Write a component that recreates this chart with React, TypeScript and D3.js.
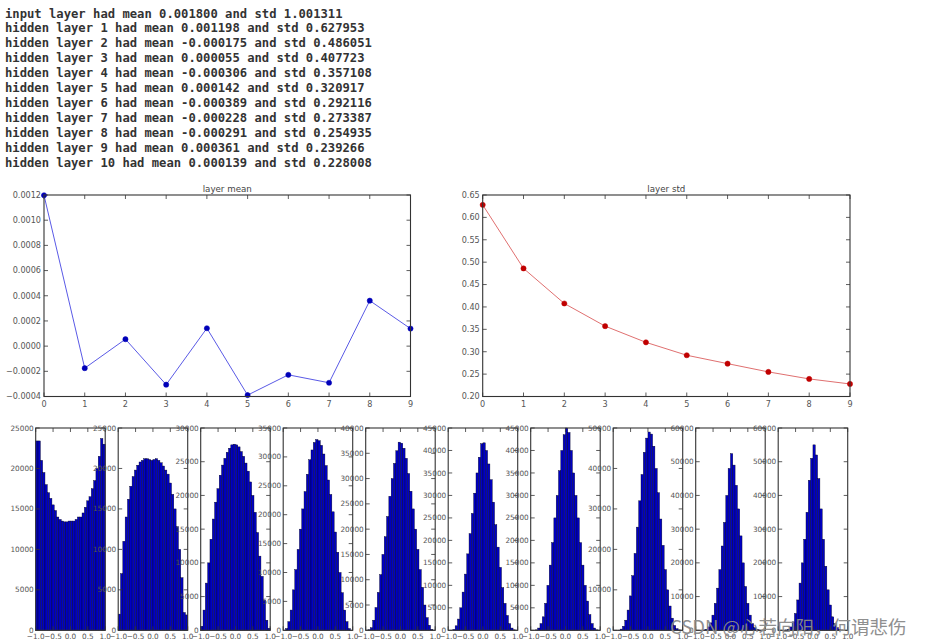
import React from "react";
import * as d3 from "d3";

// ---------- data ----------
const textLines = [
  "input layer had mean 0.001800 and std 1.001311",
  "hidden layer 1 had mean 0.001198 and std 0.627953",
  "hidden layer 2 had mean -0.000175 and std 0.486051",
  "hidden layer 3 had mean 0.000055 and std 0.407723",
  "hidden layer 4 had mean -0.000306 and std 0.357108",
  "hidden layer 5 had mean 0.000142 and std 0.320917",
  "hidden layer 6 had mean -0.000389 and std 0.292116",
  "hidden layer 7 had mean -0.000228 and std 0.273387",
  "hidden layer 8 had mean -0.000291 and std 0.254935",
  "hidden layer 9 had mean 0.000361 and std 0.239266",
  "hidden layer 10 had mean 0.000139 and std 0.228008",
];

const layerIndex = [0, 1, 2, 3, 4, 5, 6, 7, 8, 9];
const layerMeans = [0.001198, -0.000175, 0.000055, -0.000306, 0.000142, -0.000389, -0.000228, -0.000291, 0.000361, 0.000139];
const layerStds = [0.627953, 0.486051, 0.407723, 0.357108, 0.320917, 0.292116, 0.273387, 0.254935, 0.239266, 0.228008];

const meanTicks = [-0.0004, -0.0002, 0, 0.0002, 0.0004, 0.0006, 0.0008, 0.001, 0.0012];
const stdTicks = [0.2, 0.25, 0.3, 0.35, 0.4, 0.45, 0.5, 0.55, 0.6, 0.65];

const histXTicks = [-1, -0.5, 0, 0.5, 1];
const histYMax = [25000, 25000, 30000, 35000, 40000, 45000, 45000, 50000, 60000, 60000];
const histYStep = [5000, 5000, 5000, 5000, 5000, 5000, 5000, 10000, 10000, 10000];

// 30 bins over [-1, 1]
const hist1 = [23400, 23400, 21000, 19500, 18000, 17000, 16300, 15500, 14800, 14000, 13700, 13500, 13400, 13400, 13500, 13500, 13500, 13700, 14000, 14000, 14500, 15200, 16000, 16500, 17500, 18500, 20000, 21500, 23700, 23000];
const hist2 = [2000, 7000, 11000, 14000, 16200, 17800, 19000, 19800, 20400, 20800, 21000, 21200, 21200, 21100, 21000, 21100, 21200, 21000, 20700, 20300, 19800, 19300, 18200, 16800, 15000, 12800, 10000, 6500, 2200, 1900];
const hist3 = [600, 3000, 7000, 10000, 13500, 16500, 19000, 21000, 23000, 24500, 25500, 26400, 27000, 27500, 27600, 27500, 27200, 26500, 25800, 24800, 23600, 22000, 20000, 17500, 14500, 11000, 8000, 4500, 1500, 300];
const hist4 = [0, 300, 1500, 3500, 7000, 10500, 14000, 17500, 21000, 24000, 27000, 29500, 31200, 32500, 33000, 32800, 32000, 30500, 28500, 26000, 23500, 20500, 17000, 13500, 10000, 6500, 3500, 1500, 300, 0];
const hist5 = [0, 100, 500, 2000, 4500, 7500, 11000, 15000, 18500, 22500, 26500, 30000, 33000, 35500, 37200, 37000, 36000, 34000, 31000, 27500, 24000, 20000, 16000, 12000, 8500, 5000, 2500, 1000, 200, 0];
const hist6 = [0, 0, 200, 1000, 2500, 5000, 8500, 12500, 17000, 21500, 26000, 30500, 35000, 38500, 41500, 41700, 40000, 37000, 33500, 28500, 23500, 18500, 14000, 9500, 6000, 3300, 1500, 500, 100, 0];
const hist7 = [0, 0, 100, 500, 1500, 3000, 6000, 10000, 14500, 19500, 25000, 30000, 35500, 40000, 43500, 45000, 44000, 40000, 35000, 30000, 25000, 19500, 14500, 10000, 6500, 3500, 1500, 500, 100, 0];
const hist8 = [0, 0, 50, 300, 1000, 2500, 5000, 8500, 13500, 19000, 25500, 32000, 38500, 44000, 47500, 49000, 48500, 45500, 40000, 34000, 27500, 21000, 15000, 10000, 6000, 3000, 1200, 400, 100, 0];
const hist9 = [0, 0, 0, 100, 300, 1000, 2200, 4500, 8000, 12500, 18000, 25000, 32000, 40000, 48000, 52400, 49000, 43000, 36000, 28000, 20000, 13000, 8000, 4500, 2000, 800, 300, 100, 0, 0];
const hist10 = [0, 0, 0, 100, 300, 1000, 2500, 5000, 9000, 14000, 20000, 27000, 35000, 44500, 51000, 55000, 52000, 45000, 36000, 27000, 19000, 12000, 7500, 4000, 2000, 800, 300, 100, 0, 0];
const histograms = [hist1, hist2, hist3, hist4, hist5, hist6, hist7, hist8, hist9, hist10];

const W = 927;
const H = 644;
const axisFont = "DejaVu Sans, sans-serif";
const labelColor = "#555";
const frameColor = "#333";

const fmtMean = d3.format(".4f");
const fmtStd = d3.format(".2f");
const fmtX = d3.format(".1f");

type LineProps = {
  x0: number; x1: number; y0: number; y1: number;
  values: number[]; yDomain: [number, number]; yTicks: number[];
  fmt: (v: number) => string; title: string;
  lineColor: string; markerColor: string;
};

function LinePlot(p: LineProps) {
  const x = d3.scaleLinear().domain([0, 9]).range([p.x0, p.x1]);
  const y = d3.scaleLinear().domain(p.yDomain).range([p.y1, p.y0]);
  const line = d3.line<number>().x((_, i) => x(layerIndex[i])).y((d) => y(d));
  const tl = 4;
  return (
    <g>
      <text x={(p.x0 + p.x1) / 2} y={p.y0 - 3.5} textAnchor="middle" fontFamily={axisFont} fontSize={8.7} fill="#444">{p.title}</text>
      {p.yTicks.map((t) => (
        <g key={"y" + t}>
          <line x1={p.x0} x2={p.x0 + tl} y1={y(t)} y2={y(t)} stroke={frameColor} strokeWidth={0.8} />
          <line x1={p.x1} x2={p.x1 - tl} y1={y(t)} y2={y(t)} stroke={frameColor} strokeWidth={0.8} />
          <text x={p.x0 - 3} y={y(t)} dy="0.35em" textAnchor="end" fontFamily={axisFont} fontSize={8.1} fill={labelColor}>{p.fmt(t)}</text>
        </g>
      ))}
      {layerIndex.map((t) => (
        <g key={"x" + t}>
          <line x1={x(t)} x2={x(t)} y1={p.y1} y2={p.y1 - tl} stroke={frameColor} strokeWidth={0.8} />
          <line x1={x(t)} x2={x(t)} y1={p.y0} y2={p.y0 + tl} stroke={frameColor} strokeWidth={0.8} />
          <text x={x(t)} y={p.y1 + 10} textAnchor="middle" fontFamily={axisFont} fontSize={8.1} fill={labelColor}>{String(t)}</text>
        </g>
      ))}
      <path d={line(p.values) || ""} fill="none" stroke={p.lineColor} strokeWidth={1} />
      {p.values.map((v, i) => (
        <circle key={i} cx={x(layerIndex[i])} cy={y(v)} r={2.6} fill={p.markerColor} stroke={p.markerColor} strokeWidth={0.5} />
      ))}
      <rect x={p.x0} y={p.y0} width={p.x1 - p.x0} height={p.y1 - p.y0} fill="none" stroke={frameColor} strokeWidth={1.1} />
    </g>
  );
}

function Histogram({ idx }: { idx: number }) {
  const left = 35.7 + idx * 82.5;
  const right = left + 69.5;
  const top = 428;
  const bottom = 630.3;
  const counts = histograms[idx];
  const x = d3.scaleLinear().domain([-1, 1]).range([left, right]);
  const y = d3.scaleLinear().domain([0, histYMax[idx]]).range([bottom, top]);
  const nb = counts.length;
  const edges = d3.range(nb + 1).map((k) => -1 + (2 * k) / nb);
  const yTicks = d3.range(0, histYMax[idx] + 1, histYStep[idx]);
  const tl = 4;
  return (
    <g>
      {counts.map((c, k) => (
        <rect key={k} x={x(edges[k])} y={y(c)} width={x(edges[k + 1]) - x(edges[k])} height={bottom - y(c)}
          fill="#0000c4" stroke="#000022" strokeWidth={0.4} />
      ))}
      {yTicks.map((t) => (
        <g key={"y" + t}>
          <line x1={left} x2={left + tl} y1={y(t)} y2={y(t)} stroke={frameColor} strokeWidth={0.8} />
          <line x1={right} x2={right - tl} y1={y(t)} y2={y(t)} stroke={frameColor} strokeWidth={0.8} />
          <text x={left - 2} y={y(t)} dy="0.35em" textAnchor="end" fontFamily={axisFont} fontSize={7.3} fill={labelColor}>{String(t)}</text>
        </g>
      ))}
      {histXTicks.map((t) => (
        <g key={"x" + t}>
          <line x1={x(t)} x2={x(t)} y1={bottom} y2={bottom - tl} stroke={frameColor} strokeWidth={0.8} />
          <line x1={x(t)} x2={x(t)} y1={top} y2={top + tl} stroke={frameColor} strokeWidth={0.8} />
          <text x={x(t)} y={bottom + 8.5} textAnchor="middle" fontFamily={axisFont} fontSize={7.3} fill={labelColor}>{fmtX(t)}</text>
        </g>
      ))}
      <rect x={left} y={top} width={right - left} height={bottom - top} fill="none" stroke={frameColor} strokeWidth={1.1} />
    </g>
  );
}

export default function App() {
  return (
    <svg width={W} height={H} viewBox={`0 0 ${W} ${H}`} style={{ position: "absolute", left: 0, top: 0, background: "#fff" }}>
      <rect x={0} y={0} width={W} height={H} fill="#fff" />
      {textLines.map((s, i) => (
        <text key={i} x={5} y={17.5 + i * 14.94} fontFamily="DejaVu Sans Mono, monospace" fontWeight="bold" fontSize={12.2} fill="#333" style={{ whiteSpace: "pre" }}>{s}</text>
      ))}
      <LinePlot x0={44} x1={410.5} y0={195} y1={396.5} values={layerMeans} yDomain={[-0.0004, 0.0012]} yTicks={meanTicks}
        fmt={fmtMean} title="layer mean" lineColor="#5a5ae6" markerColor="#0000b8" />
      <LinePlot x0={482.7} x1={850} y0={195} y1={396.5} values={layerStds} yDomain={[0.2, 0.65]} yTicks={stdTicks}
        fmt={fmtStd} title="layer std" lineColor="#e07070" markerColor="#c00000" />
      {histograms.map((_, i) => <Histogram key={i} idx={i} />)}
      <text x={670} y={634} fontFamily="Noto Sans CJK SC, sans-serif" fontSize={18.5} fill="#8a8a8a" opacity={0.95}>CSDN @心若向阳，何谓悲伤</text>
    </svg>
  );
}
